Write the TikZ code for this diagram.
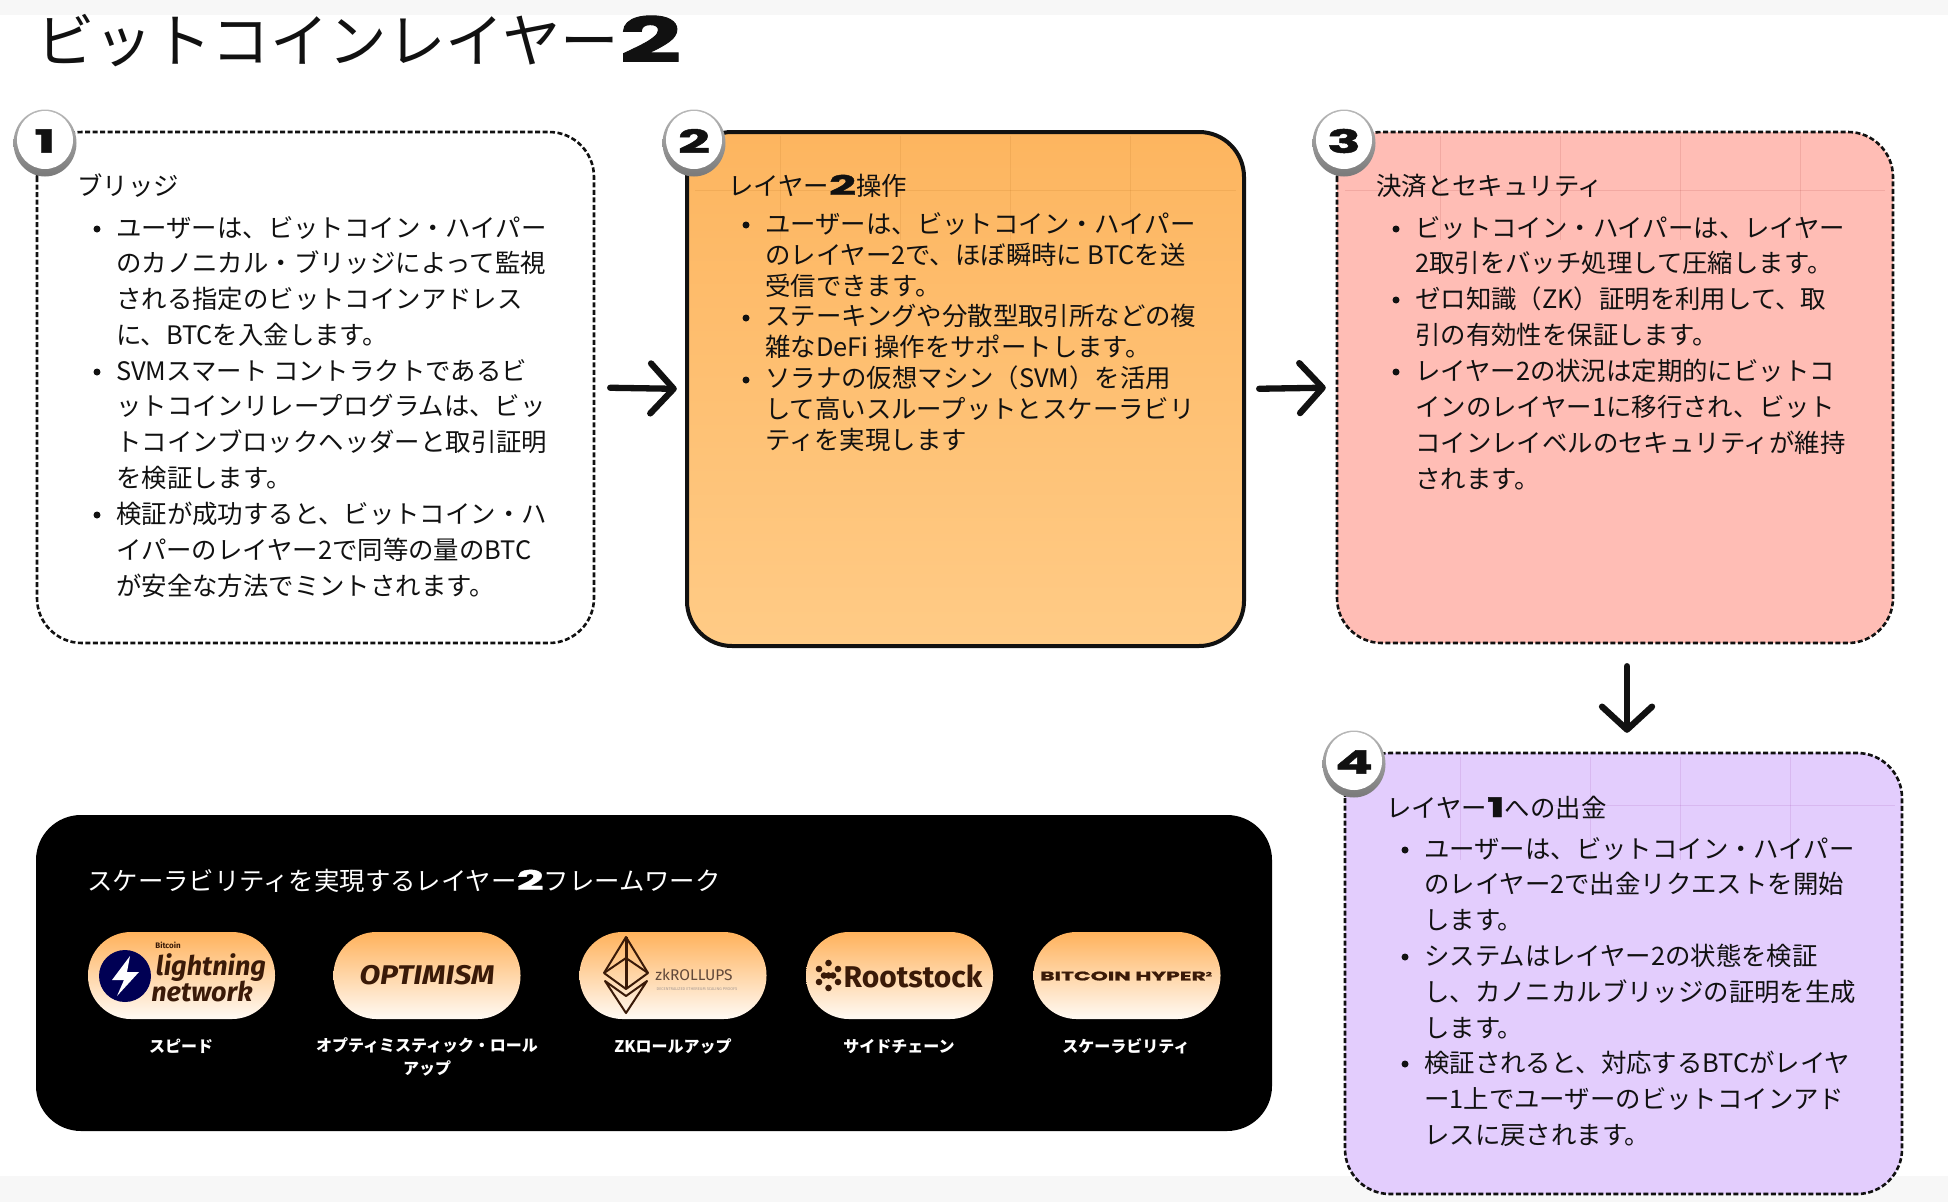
\documentclass[tikz,border=0pt]{standalone}
\usepackage{fontspec}
\usetikzlibrary{arrows.meta,shapes.geometric,calc}
\setmainfont{Noto Sans CJK JP}
\newfontfamily\jp{Noto Sans CJK JP}
\newfontfamily\wide[FakeStretch=1.75,FakeBold=1.5]{Poppins}
\newcommand{\heavy}{\wide\bfseries}
\newfontfamily\fira{Fira Sans}
\newfontfamily\firaw[FakeStretch=1.12]{Fira Sans}
\definecolor{ink}{HTML}{111111}
\definecolor{orA}{HTML}{FDB55F}
\definecolor{orB}{HTML}{FFCB86}
\definecolor{pinkbox}{HTML}{FFBDB5}
\definecolor{lilac}{HTML}{E3CDFD}
\definecolor{pillA}{HTML}{FFB25C}
\definecolor{pillB}{HTML}{FFFAF4}
\definecolor{logoink}{HTML}{3A1A08}
\tikzset{
  box/.style={rounded corners=45pt,draw=ink,line width=2.6pt,dash pattern=on 5pt off 2.5pt},
  para/.style={anchor=north west,inner sep=0pt,align=left,text=ink,font=\fontsize{25.4}{35.8}\selectfont\jp},
  paratight/.style={para,font=\fontsize{25.4}{31}\selectfont\jp},
  headtxt/.style={anchor=base west,inner sep=0pt,text=ink,font=\fontsize{25.4}{30}\selectfont\jp},
  dot/.style={circle,fill=ink,inner sep=0pt,minimum size=7pt},
  flow/.style={draw=ink,line width=6.3pt,line cap=round,-{Straight Barb[length=23pt,width=50pt,line cap=round,round]}},
  rim/.style={ellipse,minimum width=63pt,minimum height=67pt,inner sep=0pt,top color=gray!55,bottom color=gray!95!black},
  face/.style={ellipse,minimum width=56pt,minimum height=58pt,inner sep=0pt,fill=white},
  num/.style={inner sep=0pt,text=ink,font=\fontsize{32}{32}\selectfont\heavy},
  pill/.style={rounded corners=43pt,minimum width=187pt,minimum height=87pt,inner sep=0pt,top color=pillA,bottom color=pillB},
  captiontxt/.style={anchor=base,inner sep=0pt,text=white,align=center,font=\fontsize{16}{23}\selectfont\bfseries\jp},
  faint/.style={line width=.7pt,opacity=.1}
}
\begin{document}
\begin{tikzpicture}[x=1pt,y=-1pt]
\useasboundingbox (0,0) rectangle (1948,1202);
\fill[white] (0,0) rectangle (1948,1202);
\fill[black!3] (0,0) rectangle (1948,15);
\fill[black!3] (0,1176) rectangle (1948,1202);

\node[anchor=base west,inner sep=0pt,text=ink,font=\fontsize{58.5}{60}\selectfont\jp] (title) at (36,62) {ビットコインレイヤー{\fontsize{62}{60}\selectfont\heavy 2}};

% boxes
\path[box,fill=white] (37,132) rectangle (594,643);
\node[inner sep=0pt,minimum width=557pt,minimum height=511pt] (b1) at (315.5,387.5) {};
\path[rounded corners=45pt,draw=ink,line width=4pt,top color=orA,bottom color=orB] (687,132) rectangle (1244,646);
\node[inner sep=0pt,minimum width=557pt,minimum height=514pt] (b2) at (965.5,389) {};
\path[box,fill=pinkbox] (1337,132) rectangle (1893,643);
\node[inner sep=0pt,minimum width=556pt,minimum height=511pt] (b3) at (1615,387.5) {};
\path[box,fill=lilac] (1345,753) rectangle (1902,1194);
\node[inner sep=0pt,minimum width=557pt,minimum height=441pt] (b4) at (1623.5,973.5) {};

% faint texture
\foreach \x in {780,900,1010,1130} \draw[faint,draw=orange!60!black] (\x,136) -- (\x,240);
\draw[faint,draw=orange!60!black] (695,190) -- (1236,190);
\foreach \x in {1440,1560,1680,1800} \draw[faint,draw=red!50!black] (\x,136) -- (\x,240);
\draw[faint,draw=red!50!black] (1345,190) -- (1885,190);
\foreach \x in {1460,1590,1680,1790} \draw[faint,draw=violet] (\x,757) -- (\x,860);
\draw[faint,draw=violet] (1550,805) -- (1895,805);

% badges
\foreach \n/\x/\y/\t in {1/45/143/1,2/694/143/2,3/1344/143/3,4/1354/764/4}{
  \node[rim] (r\n) at (\x,\y) {};
  \node[face] (f\n) at (\x,\y-3) {};
  \node[num] (n\n) at (\x,\y-2) {\t};
}

% arrows
\draw[flow,shorten <=16pt,shorten >=10pt] (b1.east) -- (b2.west);
\draw[flow,shorten <=15pt,shorten >=11pt] (b2.east) -- (b3.west);
\draw[flow,shorten <=23pt,shorten >=20pt] ([xshift=12pt]b3.south) -- ([xshift=3.5pt]b4.north);

% box 1
\node[headtxt] (h1) at (77,195) {ブリッジ};
\node[dot] (d11) at (97,229) {};
\node[para] (p11) at (116,216) {ユーザーは、ビットコイン・ハイパー\\のカノニカル・ブリッジによって監視\\される指定のビットコインアドレス\\に、BTCを入金します。};
\node[dot] (d12) at (97,372) {};
\node[para] (p12) at (116,359) {SVMスマート コントラクトであるビ\\ットコインリレープログラムは、ビッ\\トコインブロックヘッダーと取引証明\\を検証します。};
\node[dot] (d13) at (97,515) {};
\node[para] (p13) at (116,502) {検証が成功すると、ビットコイン・ハ\\イパーのレイヤー2で同等の量のBTC\\が安全な方法でミントされます。};

% box 2
\node[headtxt] (h2) at (728,195) {レイヤー{\fontsize{27}{30}\selectfont\heavy 2}操作};
\node[dot] (d21) at (746,225) {};
\node[paratight] (p21) at (765,212) {ユーザーは、ビットコイン・ハイパー\\のレイヤー2で、ほぼ瞬時に BTCを送\\受信できます。};
\node[dot] (d22) at (746,318) {};
\node[paratight] (p22) at (765,304) {ステーキングや分散型取引所などの複\\雑なDeFi 操作をサポートします。};
\node[dot] (d23) at (746,380) {};
\node[paratight] (p23) at (765,366) {ソラナの仮想マシン（SVM）を活用\\して高いスループットとスケーラビリ\\ティを実現します};

% box 3
\node[headtxt] (h3) at (1376,195) {決済とセキュリティ};
\node[dot] (d31) at (1396,229) {};
\node[para] (p31) at (1415,216) {ビットコイン・ハイパーは、レイヤー\\2取引をバッチ処理して圧縮します。};
\node[dot] (d32) at (1396,300) {};
\node[para] (p32) at (1415,287) {ゼロ知識（ZK）証明を利用して、取\\引の有効性を保証します。};
\node[dot] (d33) at (1396,372) {};
\node[para] (p33) at (1415,359) {レイヤー2の状況は定期的にビットコ\\インのレイヤー1に移行され、ビット\\コインレイベルのセキュリティが維持\\されます。};

% box 4
\node[headtxt] (h4) at (1386,817) {レイヤー{\fontsize{27}{30}\selectfont\heavy 1}への出金};
\node[dot] (d41) at (1405,850) {};
\node[para] (p41) at (1424,837) {ユーザーは、ビットコイン・ハイパー\\のレイヤー2で出金リクエストを開始\\します。};
\node[dot] (d42) at (1405,957) {};
\node[para] (p42) at (1424,944) {システムはレイヤー2の状態を検証\\し、カノニカルブリッジの証明を生成\\します。};
\node[dot] (d43) at (1405,1064) {};
\node[para] (p43) at (1424,1051) {検証されると、対応するBTCがレイヤ\\ー1上でユーザーのビットコインアド\\レスに戻されます。};

% black panel
\fill[black,rounded corners=45pt] (36,815) rectangle (1272,1131);
\node[inner sep=0pt,minimum width=1236pt,minimum height=316pt] (panel) at (654,973) {};
\node[anchor=base west,inner sep=0pt,text=white,font=\fontsize{25.4}{30}\selectfont\jp] (ptitle) at (87,890) {スケーラビリティを実現するレイヤー{\fontsize{27}{30}\selectfont\heavy 2}フレームワーク};

\node[pill] (l1) at (181.5,975.5) {};
\node[pill] (l2) at (427,975.5) {};
\node[pill] (l3) at (673,975.5) {};
\node[pill] (l4) at (899.5,975.5) {};
\node[pill] (l5) at (1127,975.5) {};

% lightning logo
\node[circle,fill=black!40!blue!55!black,minimum size=52pt,inner sep=0pt] (bolt) at (125,976) {};
\fill[white] (130,956) -- (112,980) -- (124,980) -- (117,996) -- (139,972) -- (127,972) -- cycle;
\node[inner sep=0pt,text=logoink,font=\fontsize{8}{8}\selectfont\bfseries\fira] (lb) at (168,945) {Bitcoin};
\node[inner sep=0pt,text=logoink,font=\fontsize{27}{27}\selectfont\itshape\bfseries\fira] (lw1) at (211,968) {lightning};
\node[inner sep=0pt,text=logoink,font=\fontsize{27}{27}\selectfont\itshape\bfseries\fira] (lw2) at (202,991) {network};

% optimism
\node[inner sep=0pt,text=logoink,font=\fontsize{27}{27}\selectfont\itshape\bfseries\firaw] (lo) at (427,975) {OPTIMISM};

% zk
\draw[logoink,line width=2pt,line join=round] (626,937) -- (604,973) -- (626,989) -- (648,973) -- cycle;
\draw[logoink,line width=2pt] (604,973) -- (626,958) -- (648,973);
\draw[logoink,line width=3pt] (626,937) -- (626,989);
\draw[logoink,line width=2pt,line join=round] (605,981) -- (626,1013) -- (647,981) -- (626,996) -- cycle;
\node[inner sep=0pt,text=logoink!80,font=\fontsize{15.5}{16}\selectfont\fira] (lz) at (694,975) {zkROLLUPS};
\node[inner sep=0pt,text=logoink!45,font=\fontsize{4}{4}\selectfont\fira] (lz2) at (697,989) {DECENTRALIZED ETHEREUM SCALING PROOFS};

% rootstock
\foreach \a/\b in {819/969,819/982,828.5/963,828.5/975.5,828.5/988,838/969,838/982,824/975.5,833/975.5} \fill[logoink] (\a,\b) circle (3.3pt);
\node[inner sep=0pt,text=logoink,font=\fontsize{30}{30}\selectfont\bfseries\fira] (lr) at (913,976) {Rootstock};

% bitcoin hyper
\node[inner sep=0pt,text=logoink,font=\fontsize{12.5}{15}\selectfont\heavy] (lh) at (1126,976) {BITCOIN HYPER{\fontsize{6}{7}\selectfont\raisebox{4pt}{2}}};

% captions
\node[captiontxt] (c1) at (181,1052.5) {スピード};
\node[captiontxt,anchor=north] (c2) at (427,1037.5) {オプティミスティック・ロール\\アップ};
\node[captiontxt] (c3) at (673,1052.5) {ZKロールアップ};
\node[captiontxt] (c4) at (899,1052.5) {サイドチェーン};
\node[captiontxt] (c5) at (1126,1052.5) {スケーラビリティ};
\end{tikzpicture}
\end{document}
